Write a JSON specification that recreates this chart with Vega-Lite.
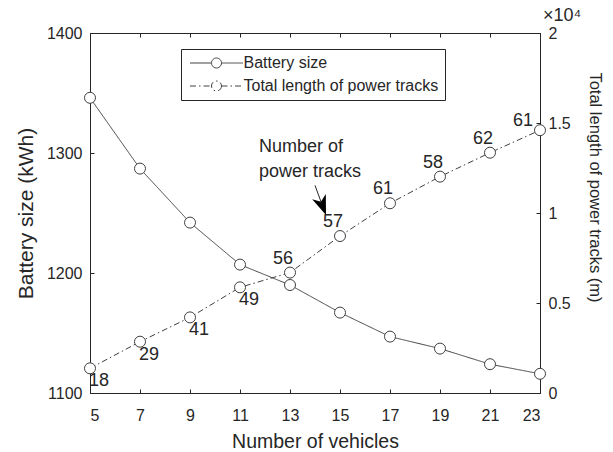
{
  "$schema": "https://vega.github.io/schema/vega-lite/v6.json",
  "width": 450,
  "height": 360,
  "autosize": {"type": "none"},
  "padding": {"left": 90, "top": 33, "right": 73, "bottom": 59},
  "background": "white",
  "config": {
    "font": "Liberation Sans",
    "view": {"stroke": "#262626", "strokeWidth": 1},
    "axis": {
      "domainColor": "#262626",
      "tickColor": "#262626",
      "labelColor": "#262626",
      "titleColor": "#262626",
      "labelFont": "Liberation Sans",
      "titleFont": "Liberation Sans",
      "labelFontSize": 16,
      "titleFontWeight": "normal",
      "grid": false,
      "tickSize": -4,
      "domain": true
    }
  },
  "datasets": {
    "main": [
      {"vehicles": 5, "battery": 1346, "length": 1370, "tracks": 18},
      {"vehicles": 7, "battery": 1287, "length": 2850, "tracks": 29},
      {"vehicles": 9, "battery": 1242, "length": 4200, "tracks": 41},
      {"vehicles": 11, "battery": 1207, "length": 5870, "tracks": 49},
      {"vehicles": 13, "battery": 1190, "length": 6690, "tracks": 56},
      {"vehicles": 15, "battery": 1167, "length": 8720, "tracks": 57},
      {"vehicles": 17, "battery": 1147, "length": 10540, "tracks": 61},
      {"vehicles": 19, "battery": 1137, "length": 12020, "tracks": 58},
      {"vehicles": 21, "battery": 1124, "length": 13350, "tracks": 62},
      {"vehicles": 23, "battery": 1116, "length": 14600, "tracks": 61}
    ],
    "note": [{"vehicles": 11.76, "battery": 1305, "label": ["Number of", "power tracks"]}],
    "arrow": [{"vehicles": 14.0, "battery": 1273, "vehicles2": 14.3, "battery2": 1256}]
  },
  "title": {
    "text": "×10⁴",
    "frame": "group",
    "anchor": "end",
    "align": "left",
    "baseline": "alphabetic",
    "dx": 3,
    "offset": -14,
    "fontSize": 18,
    "fontWeight": "normal",
    "color": "#262626",
    "font": "Liberation Sans"
  },
  "layer": [
    {
      "data": {"name": "main"},
      "layer": [
        {
          "mark": {"type": "line", "color": "#404040", "strokeWidth": 1},
          "encoding": {
            "x": {
              "field": "vehicles", "type": "quantitative",
              "scale": {"domain": [5, 23], "nice": false, "zero": false},
              "axis": {"orient": "bottom", "values": [5, 7, 9, 11, 13, 15, 17, 19, 21, 23], "title": "Number of vehicles", "titleFontSize": 19.5, "titlePadding": 9, "labelPadding": 18}
            },
            "y": {
              "field": "battery", "type": "quantitative",
              "scale": {"domain": [1100, 1400], "nice": false, "zero": false},
              "axis": {"orient": "left", "values": [1100, 1200, 1300, 1400], "format": "d", "title": "Battery size (kWh)", "titleFontSize": 21, "titlePadding": 10, "labelPadding": 12}
            },
            "strokeDash": {
              "datum": "Battery size",
              "type": "nominal",
              "scale": {"domain": ["Battery size", "Total length of power tracks"], "range": [[1, 0], [6, 3, 1.5, 3]]},
              "legend": {
                "orient": "none",
                "legendX": 91,
                "legendY": 16,
                "title": null,
                "symbolType": "M-5.3,0H-1M1,0H5.3M1,0A1,1 0 1,1 -1,0A1,1 0 1,1 1,0Z",
                "symbolSize": 100,
                "symbolStrokeColor": "#404040",
                "symbolFillColor": "white",
                "symbolStrokeWidth": 1,
                "symbolOffset": 21.5,
                "labelOffset": 19,
                "labelLimit": 400,
                "labelFontSize": 16,
                "labelFont": "Liberation Sans",
                "labelColor": "#262626",
                "padding": 6,
                "rowPadding": 7,
                "strokeColor": "#262626",
                "fillColor": "white"
              }
            }
          }
        },
        {
          "mark": {"type": "point", "filled": true, "fill": "white", "stroke": "#404040", "strokeWidth": 1, "size": 121, "opacity": 1},
          "encoding": {
            "x": {"field": "vehicles", "type": "quantitative"},
            "y": {"field": "battery", "type": "quantitative"}
          }
        },
        {
          "data": {"name": "note"},
          "mark": {"type": "text", "align": "left", "baseline": "middle", "fontSize": 18, "lineHeight": 25, "color": "#262626"},
          "encoding": {
            "x": {"field": "vehicles", "type": "quantitative"},
            "y": {"field": "battery", "type": "quantitative"},
            "text": {"field": "label"}
          }
        },
        {
          "data": {"name": "arrow"},
          "mark": {"type": "rule", "color": "#262626", "strokeWidth": 1},
          "encoding": {
            "x": {"field": "vehicles", "type": "quantitative"},
            "y": {"field": "battery", "type": "quantitative"},
            "x2": {"field": "vehicles2"},
            "y2": {"field": "battery2"}
          }
        },
        {
          "data": {"name": "arrow"},
          "mark": {"type": "point", "shape": "M0,1L-0.75,-1L0,-0.45L0.75,-1Z", "angle": 339, "filled": true, "color": "#000000", "size": 380, "opacity": 1},
          "encoding": {
            "x": {"field": "vehicles2", "type": "quantitative"},
            "y": {"field": "battery2", "type": "quantitative"}
          }
        }
      ]
    },
    {
      "data": {"name": "main"},
      "layer": [
        {
          "mark": {"type": "line", "color": "#404040", "strokeWidth": 1},
          "encoding": {
            "x": {
              "field": "vehicles", "type": "quantitative",
              "scale": {"domain": [5, 23], "nice": false, "zero": false},
              "axis": {"orient": "top", "values": [5, 7, 9, 11, 13, 15, 17, 19, 21, 23], "labels": false, "title": null}
            },
            "y": {
              "field": "length", "type": "quantitative",
              "scale": {"domain": [0, 20000], "nice": false},
              "axis": {"orient": "right", "values": [0, 5000, 10000, 15000, 20000], "labelExpr": "datum.value / 10000", "title": "Total length of power tracks (m)", "titleFontSize": 16.5, "titlePadding": 16, "titleY": 154, "labelPadding": 12}
            },
            "strokeDash": {"datum": "Total length of power tracks", "type": "nominal"}
          }
        },
        {
          "mark": {"type": "point", "filled": true, "fill": "white", "stroke": "#404040", "strokeWidth": 1, "size": 121, "opacity": 1},
          "encoding": {
            "x": {"field": "vehicles", "type": "quantitative"},
            "y": {"field": "length", "type": "quantitative"}
          }
        },
        {
          "transform": [{"filter": "datum.vehicles <= 11"}],
          "mark": {"type": "text", "align": "center", "baseline": "middle", "dx": 9, "dy": 13, "fontSize": 18, "color": "#262626"},
          "encoding": {
            "x": {"field": "vehicles", "type": "quantitative"},
            "y": {"field": "length", "type": "quantitative"},
            "text": {"field": "tracks"}
          }
        },
        {
          "transform": [{"filter": "datum.vehicles > 11 && datum.vehicles < 23"}],
          "mark": {"type": "text", "align": "center", "baseline": "middle", "dx": -7, "dy": -14, "fontSize": 18, "color": "#262626"},
          "encoding": {
            "x": {"field": "vehicles", "type": "quantitative"},
            "y": {"field": "length", "type": "quantitative"},
            "text": {"field": "tracks"}
          }
        },
        {
          "transform": [{"filter": "datum.vehicles == 23"}],
          "mark": {"type": "text", "align": "center", "baseline": "middle", "dx": -17, "dy": -9, "fontSize": 18, "color": "#262626"},
          "encoding": {
            "x": {"field": "vehicles", "type": "quantitative"},
            "y": {"field": "length", "type": "quantitative"},
            "text": {"field": "tracks"}
          }
        }
      ]
    }
  ],
  "resolve": {"scale": {"x": "independent", "y": "independent"}}
}
